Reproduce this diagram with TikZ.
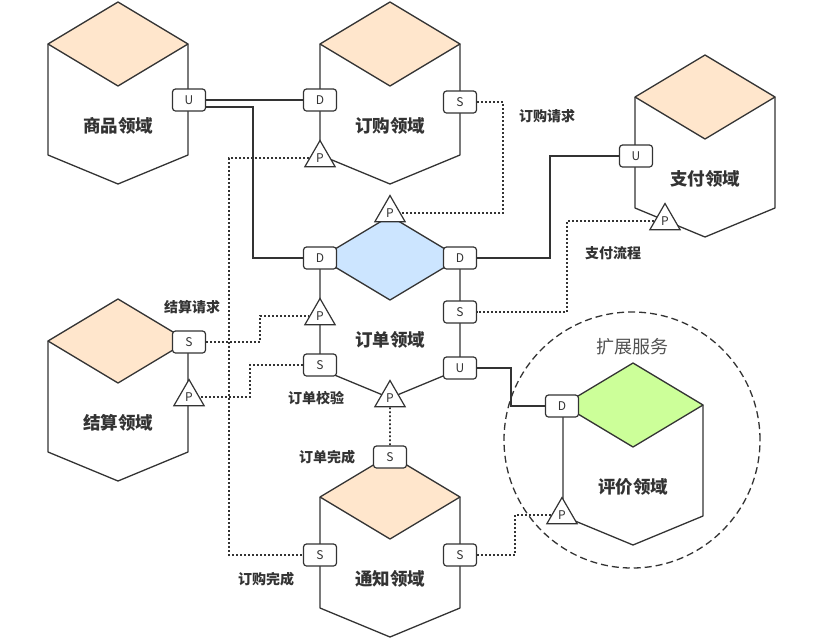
\documentclass[tikz,border=0pt]{standalone}
\usepackage{fontspec}
\setmainfont{Noto Sans CJK SC}
\usetikzlibrary{shapes.geometric}
\definecolor{ink}{HTML}{333333}
\definecolor{coregold}{HTML}{FFE6CC}
\definecolor{coreblue}{HTML}{CCE5FF}
\definecolor{extgreen}{HTML}{CCFF99}

\begin{document}
\begin{tikzpicture}[
    x=1pt,y=-1pt,
    edge/.style    ={draw=ink,line width=1.3pt,line join=round},
    portbox/.style ={draw=ink,fill=white,rounded corners=3pt,line width=1.2pt,
                     minimum width=33pt,minimum height=22pt,inner sep=0pt,
                     font=\fontsize{12}{14}\selectfont,text=ink},
    pubtri/.style  ={draw=ink,fill=white,regular polygon,regular polygon sides=3,
                     minimum size=35pt,inner sep=0pt,line width=1.2pt,
                     font=\fontsize{12}{14}\selectfont,text=ink},
    link/.style    ={ink,line width=1.4pt},
    event/.style   ={ink,line width=1.8pt,dash pattern=on 1.8pt off 2.2pt},
    tag/.style     ={font=\fontsize{14}{16}\selectfont\bfseries,text=ink},
    domlabel/.style={font=\fontsize{17.5}{20}\selectfont\bfseries,text=ink},
    pics/domain/.style 2 args={code={
        \fill[#1] (0,0) -- (70,42) -- (0,84) -- (-70,42) -- cycle;
        \draw[edge] (0,0) -- (70,42) -- (70,153) -- (0,182) -- (-70,153) -- (-70,42) -- cycle;
        \draw[edge] (-70,42) -- (0,84) -- (70,42);
        \node[domlabel] (-name) at (0,124) {#2};
    }}
]
\useasboundingbox (0,0) rectangle (833,638);

\node[circle,draw=ink,line width=1.3pt,dash pattern=on 7pt off 4pt,
      minimum size=256pt] (ext) at (632,440) {};
\node[font=\fontsize{18}{20}\selectfont,text=ink!85] (extname) at (632,347) {扩展服务};

\pic (shop)   at (118,2)   {domain={coregold}{商品领域}};
\pic (buy)    at (390,2)   {domain={coregold}{订购领域}};
\pic (pay)    at (705,55)  {domain={coregold}{支付领域}};
\pic (order)  at (390,216) {domain={coreblue}{订单领域}};
\pic (settle) at (118,299) {domain={coregold}{结算领域}};
\pic (notice) at (390,455) {domain={coregold}{通知领域}};
\pic (rate)   at (633,363) {domain={extgreen}{评价领域}};

% ports
\node[portbox] (shopU)    at (189,100) {U};
\node[portbox] (buyD)     at (320,100) {D};
\node[portbox] (buyS)     at (460,102) {S};
\node[pubtri]  (buyP)     at (320,158) {P};
\node[portbox] (payU)     at (636,156) {U};
\node[pubtri]  (payP)     at (665,221) {P};
\node[pubtri]  (orderPt)  at (390,213) {P};
\node[portbox] (orderDl)  at (320,258) {D};
\node[portbox] (orderDr)  at (460,258) {D};
\node[pubtri]  (orderPl)  at (320,316) {P};
\node[portbox] (orderSr)  at (460,312) {S};
\node[portbox] (orderSl)  at (320,365) {S};
\node[portbox] (orderU)   at (460,368) {U};
\node[pubtri]  (orderPb)  at (390,398) {P};
\node[portbox] (settleS)  at (189,342) {S};
\node[pubtri]  (settleP)  at (189,397) {P};
\node[portbox] (noticeSt) at (390,457) {S};
\node[portbox] (noticeSl) at (320,555) {S};
\node[portbox] (noticeSr) at (460,555) {S};
\node[portbox] (rateD)    at (562,406) {D};
\node[pubtri]  (rateP)    at (562,515) {P};

\draw[link] (shopU.east) -- (buyD.west);
\draw[link] ([yshift=-7pt]shopU.east) -| ([xshift=-50pt]orderDl.west) -- (orderDl.west);
\draw[link] (orderDr.east) -- ++(73,0) |- (payU.west);
\draw[link] (orderU.east) -- ++(34,0) |- (rateD.west);

\draw[event] (buyS.east) -- ++(26,0) |- (orderPt.east);
\draw[event] (payP.west) -- ++(-87,0) |- (orderSr.east);
\draw[event] (settleS.east) -- ++(54,0) |- (orderPl.west);
\draw[event] (orderSl.west) -- ++(-53,0) |- (settleP.east);
\draw[event] (buyP.west) -- ++(-80,0) |- (noticeSl.west);
\draw[event] (orderPb.south) -- (noticeSt.north);
\draw[event] (noticeSr.east) -- ++(38,0) |- (rateP.west);

\node[tag] (reqBuy)    at (547,116) {订购请求};
\node[tag] (flowPay)   at (613,253) {支付流程};
\node[tag] (reqSettle) at (192,307) {结算请求};
\node[tag] (chkOrder)  at (316,398) {订单校验};
\node[tag] (doneOrder) at (327,457) {订单完成};
\node[tag] (doneBuy)   at (266,579) {订购完成};

\end{tikzpicture}
\end{document}
